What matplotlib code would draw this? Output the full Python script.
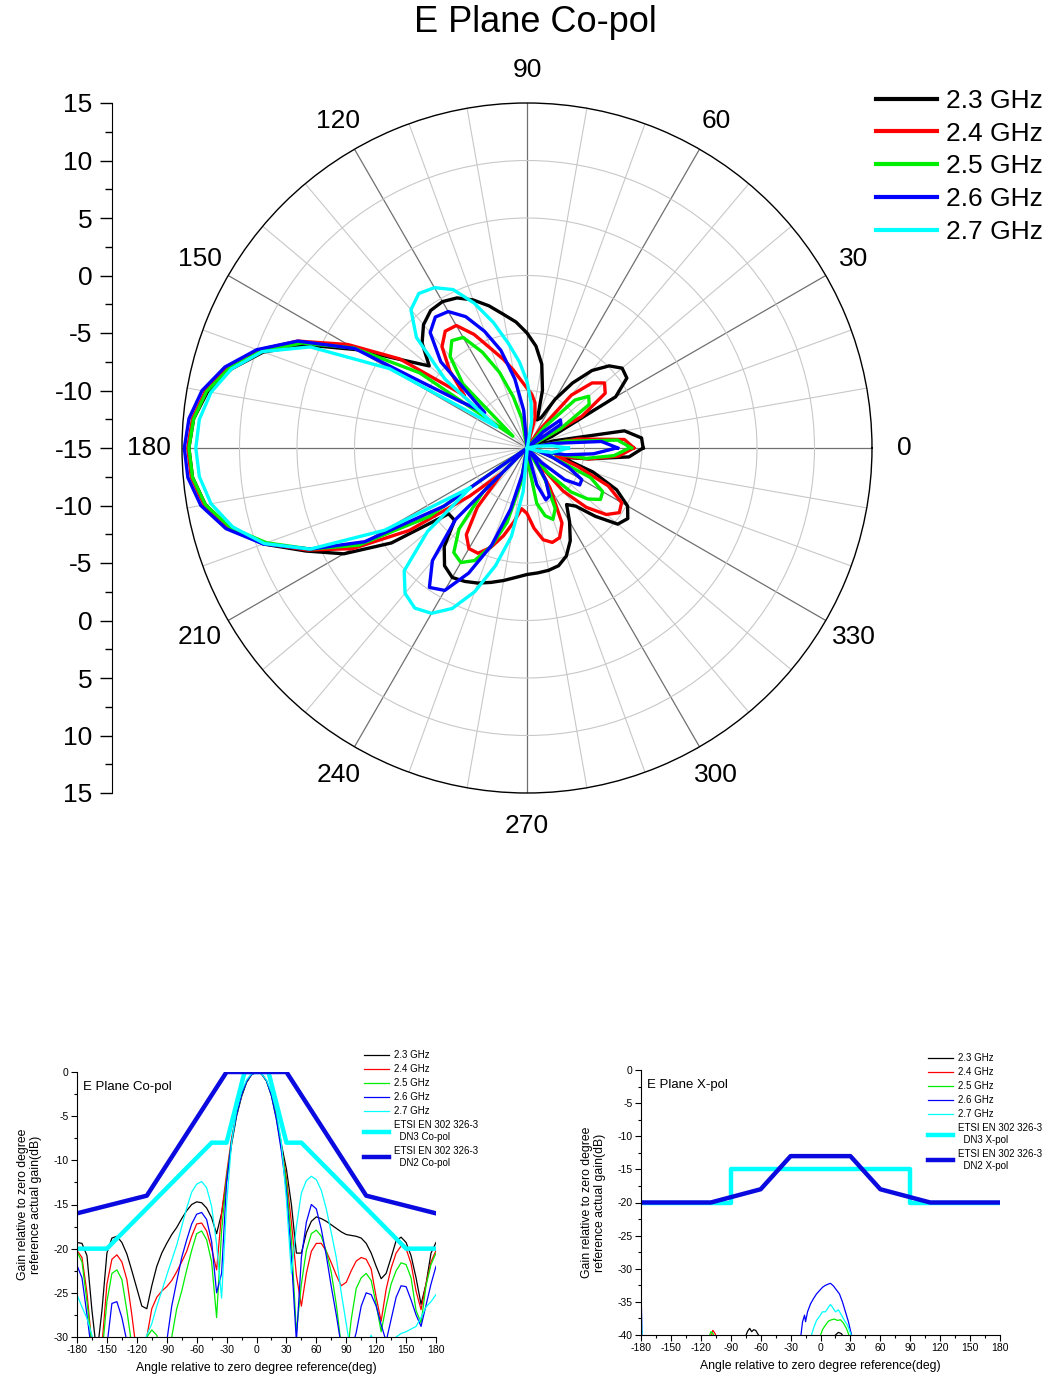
import numpy as np
import matplotlib
matplotlib.use('Agg')
import matplotlib.pyplot as plt
from matplotlib.ticker import MultipleLocator, FixedLocator
from matplotlib.lines import Line2D

plt.rcParams['font.family'] = ['Liberation Sans', 'DejaVu Sans']
plt.rcParams['axes.unicode_minus'] = False

# ---------------- data ----------------
angles = list(range(-180, 181, 5))  # angle relative to zero-degree reference (deg)
freq_labels = ['2.3 GHz', '2.4 GHz', '2.5 GHz', '2.6 GHz', '2.7 GHz']
freq_colors = ['#000000', '#ff0000', '#00ee00', '#0000ff', '#00ffff']

# normalised E-plane co-pol patterns (dB), one value per 5 deg from -180 to 180
copol_23 = [-19.3, -19.4, -20.8, -27.0, -32.0, -27.0, -20.5, -18.8, -18.6, -19.3,
            -20.6, -22.5, -24.5, -26.5, -26.8, -24.2, -22.0, -20.5, -19.4, -18.4,
            -17.6, -16.6, -15.7, -15.0, -14.7, -14.8, -15.4, -16.5, -18.3, -16.0,
            -12.3, -8.2, -5.0, -2.8, -1.2, -0.3, 0.0, -0.2, -1.0, -2.6,
            -5.0, -8.2, -11.0, -15.0, -20.5, -20.5, -18.2, -16.9, -16.4, -16.6,
            -16.9, -17.3, -17.7, -18.1, -18.4, -18.5, -18.6, -18.8, -19.4, -20.5,
            -22.0, -23.4, -22.8, -21.0, -19.1, -18.7, -19.3, -20.8, -23.3, -26.3,
            -24.0, -20.5, -19.3]
copol_24 = [-20.2, -21.0, -25.0, -31.0, -34.0, -31.0, -24.0, -21.2, -20.7, -21.5,
            -23.5, -27.5, -32.0, -33.0, -30.0, -26.8, -25.5, -24.8, -24.3, -23.6,
            -22.6, -21.5, -20.3, -18.6, -17.2, -17.1, -18.0, -20.0, -22.4, -16.0,
            -11.5, -7.5, -4.6, -2.5, -1.1, -0.3, 0.0, -0.2, -1.0, -2.6,
            -5.2, -8.5, -12.0, -17.0, -23.0, -26.5, -22.8, -20.3, -19.4, -19.4,
            -20.3, -21.6, -23.0, -24.2, -23.8, -22.5, -21.4, -21.0, -21.2, -22.3,
            -25.5, -28.2, -24.6, -22.2, -20.5, -19.7, -20.0, -21.7, -24.8, -26.9,
            -24.0, -21.5, -20.2]
copol_25 = [-20.3, -21.5, -26.0, -31.0, -35.0, -32.0, -26.0, -22.8, -22.4, -23.5,
            -27.0, -31.0, -34.0, -33.0, -30.0, -29.2, -29.8, -32.0, -33.0, -30.0,
            -26.8, -24.8, -22.4, -20.2, -18.3, -18.0, -19.0, -21.5, -27.8, -18.0,
            -12.0, -7.8, -4.8, -2.6, -1.1, -0.3, 0.0, -0.2, -1.0, -2.7,
            -5.3, -8.6, -12.5, -19.0, -29.5, -24.0, -20.2, -18.3, -17.9, -18.6,
            -20.3, -22.7, -26.3, -31.0, -33.0, -28.0, -24.5, -23.3, -22.8, -23.6,
            -26.3, -29.4, -26.5, -24.0, -22.5, -21.6, -21.8, -23.3, -27.0, -28.4,
            -24.2, -21.8, -20.5]
copol_26 = [-21.9, -23.3, -27.5, -32.0, -36.0, -34.0, -31.0, -26.2, -26.0, -27.8,
            -30.5, -34.0, -36.0, -36.0, -35.0, -34.0, -33.0, -32.0, -30.5, -26.5,
            -23.7, -21.0, -19.0, -17.2, -16.1, -15.9, -16.7, -19.2, -25.0, -22.8,
            -12.5, -7.8, -4.8, -2.6, -1.1, -0.3, 0.0, -0.2, -1.0, -2.7,
            -5.4, -9.0, -13.5, -21.0, -30.5, -21.0, -17.0, -15.0, -15.5, -17.8,
            -20.8, -24.3, -27.5, -31.0, -33.0, -31.5, -29.5, -26.5, -25.0, -25.2,
            -26.5, -28.6, -30.5, -28.0, -25.5, -24.2, -24.3, -25.8, -27.5, -28.8,
            -26.4, -24.0, -22.0]
copol_27 = [-25.2, -26.6, -27.9, -29.8, -32.0, -34.0, -35.0, -35.0, -35.0, -35.0,
            -35.0, -34.0, -33.0, -31.5, -29.8, -28.5, -26.5, -24.8, -23.0, -21.3,
            -19.6, -17.5, -15.4, -13.6, -12.7, -12.4, -13.1, -15.2, -19.5, -25.6,
            -15.0, -8.0, -4.3, -2.2, -0.9, -0.2, 0.0, -0.2, -0.9, -2.3,
            -4.5, -8.0, -14.5, -22.8, -17.5, -13.7, -12.3, -11.8, -12.2, -13.4,
            -15.5, -18.2, -21.0, -25.0, -28.5, -32.0, -34.0, -33.0, -31.5, -29.8,
            -31.0, -31.5, -31.2, -30.5, -30.0, -29.6, -29.4, -29.1, -28.8, -27.8,
            -26.6, -26.0, -25.2]
copol_series = [copol_23, copol_24, copol_25, copol_26, copol_27]

# peak (absolute) gain per frequency, dB, polar plot
peak_gain = [14.4, 14.5, 14.4, 14.8, 13.8]

# ETSI EN 302 326-3 co-pol masks
dn3_co_ang = [-180, -150, -45, -30, -12, 12, 30, 45, 150, 180]
dn3_co_val = [-20, -20, -8, -8, 0, 0, -8, -8, -20, -20]
dn2_co_ang = [-180, -110, -30, 30, 110, 180]
dn2_co_val = [-16, -14, 0, 0, -14, -16]

# ETSI EN 302 326-3 x-pol masks
dn3_x_ang = [-180, -90, -90, 90, 90, 180]
dn3_x_val = [-20, -20, -15, -15, -20, -20]
dn2_x_ang = [-180, -110, -60, -30, 30, 60, 110, 180]
dn2_x_val = [-20, -20, -18, -13, -13, -18, -20, -20]

# measured x-pol (dB, relative), sparse points per series
xpol_23_ang = [-180, -76, -73, -71, -69, -67, -65, -63, -60, 12, 15, 18, 21, 24, 180]
xpol_23_val = [-40.5, -40.5, -39.4, -39.0, -39.5, -39.2, -39.3, -39.8, -40.5,
               -40.5, -40.0, -39.6, -39.8, -40.5, -40.5]
xpol_24_ang = [-180, -110, -108, -106, -104, 180]
xpol_24_val = [-40.5, -40.5, -39.3, -39.7, -40.5, -40.5]
xpol_25_ang = [-180, -112, -110, -108, -106, -1, 2, 5, 8, 11, 14, 17, 20, 23, 26, 29, 180]
xpol_25_val = [-40.5, -40.5, -39.5, -39.7, -40.5, -40.5, -39.2, -38.5, -37.9, -37.7,
               -37.6, -37.8, -37.7, -38.2, -39.0, -40.2, -40.5]
xpol_26_ang = [-180, -179, -178, -20, -18, -16, -15, -13, -10, -7, -4, -1, 2, 5, 8, 10,
               13, 16, 19, 22, 25, 28, 30, 32, 180]
xpol_26_val = [-33.0, -40.0, -40.5, -40.5, -38.0, -37.0, -38.0, -36.5, -35.3, -34.5,
               -33.8, -33.3, -32.8, -32.5, -32.3, -32.2, -32.6, -33.2, -33.8, -35.0,
               -36.5, -38.0, -39.3, -40.5, -40.5]
xpol_27_ang = [-180, -179, -178, -10, -7, -4, -1, 2, 5, 8, 10, 12, 15, 18, 21, 24, 27,
               30, 32, 180]
xpol_27_val = [-35.5, -40.0, -40.5, -40.5, -39.0, -37.8, -37.2, -36.5, -36.5, -35.8,
               -35.4, -35.8, -36.5, -36.2, -37.0, -37.8, -38.5, -39.7, -40.5, -40.5]
xpol_ang = [xpol_23_ang, xpol_24_ang, xpol_25_ang, xpol_26_ang, xpol_27_ang]
xpol_val = [xpol_23_val, xpol_24_val, xpol_25_val, xpol_26_val, xpol_27_val]

polar_theta_labels = ['0', '30', '60', '90', '120', '150', '180', '210', '240',
                      '270', '300', '330']
polar_scale_ticks = [-30, -25, -20, -15, -10, -5, 0, 5, 10, 15, 20, 25, 30]
polar_scale_labels = ['15', '10', '5', '0', '-5', '-10', '-15', '-10', '-5', '0',
                      '5', '10', '15']
xtick_vals = list(range(-180, 181, 30))

mask_cyan = '#00ffff'
mask_blue = '#0a0ae0'

# ---------------- figure ----------------
W, H = 1053, 1380
fig = plt.figure(figsize=(W / 100, H / 100), dpi=100)


def fx(px):
    return px / W


def fy(py):
    return 1 - py / H


# ---- polar plot ----
cx, cy, R = 527, 448, 345
axp = fig.add_axes([fx(cx - R), fy(cy + R), fx(2 * R), 2 * R / H], projection='polar')
axp.set_theta_zero_location('E')
axp.set_theta_direction(1)
axp.set_ylim(-15, 15)
axp.set_yticks([-10, -5, 0, 5, 10])
axp.set_yticklabels([])
axp.set_xticks(np.deg2rad(np.arange(0, 360, 30)))
axp.set_xticklabels(polar_theta_labels, fontsize=19)
axp.set_xticks(np.deg2rad(np.arange(0, 360, 10)), minor=True)
axp.xaxis.grid(True, which='major', color='#707070', lw=0.9)
axp.xaxis.grid(True, which='minor', color='#c8c8c8', lw=0.8)
axp.yaxis.grid(True, color='#c8c8c8', lw=0.8)
axp.tick_params(axis='x', which='major', pad=13)
axp.spines['polar'].set_color('black')
axp.spines['polar'].set_linewidth(1.0)

theta = np.deg2rad(180 + np.array(angles))
for vals, pk, col, lab in zip(copol_series, peak_gain, freq_colors, freq_labels):
    g = np.clip(np.array(vals) + pk, -15, None)
    axp.plot(theta, g, color=col, lw=2.4, label=lab, zorder=3)

fig.text(0.508, fy(23), 'E Plane Co-pol', ha='center', va='center', fontsize=26)

leg = fig.legend(handles=[Line2D([], [], color=c, lw=3) for c in freq_colors],
                 labels=freq_labels, loc='upper left',
                 bbox_to_anchor=(fx(876), fy(89)), frameon=False, fontsize=19,
                 handlelength=2.3, handletextpad=0.35, labelspacing=0.33,
                 borderpad=0, borderaxespad=0)

# ---- scale axis for polar ----
axs = fig.add_axes([fx(112), fy(cy + R), 0.0001, 2 * R / H])
axs.set_ylim(-30, 30)
axs.set_xlim(0, 1)
for s in ['top', 'right', 'bottom']:
    axs.spines[s].set_visible(False)
axs.set_xticks([])
axs.yaxis.set_major_locator(FixedLocator(polar_scale_ticks))
axs.set_yticklabels(polar_scale_labels[::-1], fontsize=19)
axs.yaxis.set_minor_locator(MultipleLocator(2.5))
axs.tick_params(axis='y', which='major', length=9, width=1, pad=5)
axs.tick_params(axis='y', which='minor', length=5, width=1)
axs.patch.set_visible(False)


def style_cart(ax, ylo, title):
    for s in ['top', 'right']:
        ax.spines[s].set_visible(False)
    ax.set_xlim(-180, 180)
    ax.set_ylim(ylo, 0)
    ax.set_xticks(xtick_vals)
    ax.xaxis.set_minor_locator(MultipleLocator(15))
    ax.yaxis.set_major_locator(MultipleLocator(5))
    ax.yaxis.set_minor_locator(MultipleLocator(2.5))
    ax.tick_params(labelsize=7.5, length=4, width=0.8, pad=2)
    ax.tick_params(which='minor', length=2.5, width=0.8)
    ax.set_xlabel('Angle relative to zero degree reference(deg)', fontsize=8.8, labelpad=5)
    ax.set_ylabel('Gain relative to zero degree\nreference actual gain(dB)',
                  fontsize=8.8, labelpad=8)
    ax.text(0.018, 0.965, title, transform=ax.transAxes, fontsize=9.5,
            ha='left', va='top')


# ---- bottom left: co-pol ----
ax1 = fig.add_axes([fx(77), fy(1337), fx(359), 265 / H])
for vals, col, lab in zip(copol_series, freq_colors, freq_labels):
    ax1.plot(angles, vals, color=col, lw=0.9, label=lab)
ax1.plot(dn3_co_ang, dn3_co_val, color=mask_cyan, lw=3.2,
         label='ETSI EN 302 326-3\n  DN3 Co-pol')
ax1.plot(dn2_co_ang, dn2_co_val, color=mask_blue, lw=3.2,
         label='ETSI EN 302 326-3\n  DN2 Co-pol')
style_cart(ax1, -30, 'E Plane Co-pol')
ax1.legend(loc='upper left', bbox_to_anchor=(fx(364), fy(1050)),
           bbox_transform=fig.transFigure, frameon=False, fontsize=7,
           handlelength=2.6, handletextpad=0.5, labelspacing=0.42,
           borderpad=0, borderaxespad=0)

# ---- bottom right: x-pol ----
ax2 = fig.add_axes([fx(641), fy(1335), fx(359), 265 / H])
for a, v, col, lab in zip(xpol_ang, xpol_val, freq_colors, freq_labels):
    ax2.plot(a, v, color=col, lw=0.9, label=lab)
ax2.plot(dn3_x_ang, dn3_x_val, color=mask_cyan, lw=3.2,
         label='ETSI EN 302 326-3\n  DN3 X-pol')
ax2.plot(dn2_x_ang, dn2_x_val, color=mask_blue, lw=3.2,
         label='ETSI EN 302 326-3\n  DN2 X-pol')
style_cart(ax2, -40, 'E Plane X-pol')
ax2.legend(loc='upper left', bbox_to_anchor=(fx(928), fy(1053)),
           bbox_transform=fig.transFigure, frameon=False, fontsize=7,
           handlelength=2.6, handletextpad=0.5, labelspacing=0.42,
           borderpad=0, borderaxespad=0)

fig.savefig('out.png', dpi=100)
